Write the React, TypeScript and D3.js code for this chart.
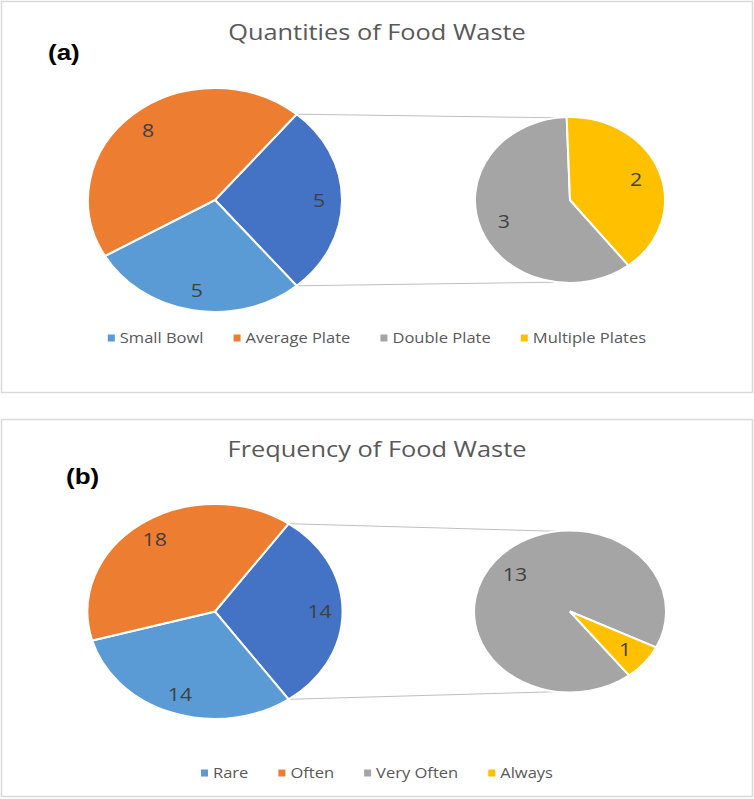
import React from "react";
import * as d3 from "d3";

// quantities panel
const qtyTitle = "Quantities of Food Waste";
const qtyCategories = ["Small Bowl", "Average Plate", "Double Plate", "Multiple Plates"];
const qtyValues = [5, 8, 3, 2];

// frequency panel
const freqTitle = "Frequency of Food Waste";
const freqCategories = ["Rare", "Often", "Very Often", "Always"];
const freqValues = [14, 18, 13, 1];

// how many trailing points go into the secondary pie
const splitCount = 2;

const catColors = ["#5B9BD5", "#ED7D31", "#A5A5A5", "#FFC000"];
const otherColor = "#4472C4";
const FONT = "'Open Sans', 'DejaVu Sans', sans-serif";
// the whole figure is a bit wider than tall, text included
const SX = 1.18;

const deg = (a: number) => (a * Math.PI) / 180;

let ctx: CanvasRenderingContext2D | null = null;
function textWidth(s: string, font: string) {
  if (!ctx) ctx = document.createElement("canvas").getContext("2d");
  if (!ctx) return s.length * 7;
  ctx.font = font;
  return ctx.measureText(s).width;
}

const WideText = (props: {
  x: number;
  y: number;
  anchor?: "start" | "middle" | "end";
  size: number;
  color: string;
  family?: string;
  weight?: string;
  central?: boolean;
  children: React.ReactNode;
}) => (
  <text
    transform={`translate(${props.x},${props.y}) scale(${SX},1)`}
    textAnchor={props.anchor || "start"}
    dominantBaseline={props.central ? "central" : undefined}
    fontFamily={props.family || FONT}
    fontWeight={props.weight}
    fontSize={props.size}
    fill={props.color}
  >
    {props.children}
  </text>
);

interface PanelProps {
  tag: string;
  tagX: number;
  title: string;
  categories: string[];
  values: number[];
  top: number;
  height: number;
  tagY: number;
  titleY: number;
  cy: number;
  main: { rx: number; ry: number };
  second: { rx: number; ry: number };
  legendY: number;
}

const PieOfPie = (p: PanelProps) => {
  const W = 754;
  const mainCx = 215;
  const secCx = 570;
  const cy = p.cy;

  const primaryVals = p.values.slice(0, p.values.length - splitCount);
  const secondaryVals = p.values.slice(p.values.length - splitCount);
  const otherTotal = d3.sum(secondaryVals);
  const total = d3.sum(p.values);

  // main pie: "other" wedge centred on the right, then the primary points clockwise
  const otherSpan = (otherTotal / total) * 2 * Math.PI;
  const start = Math.PI / 2 - otherSpan / 2;
  const mainPie = d3
    .pie<{ v: number; c: string }>()
    .sort(null)
    .value((d) => d.v)
    .startAngle(start)
    .endAngle(start + 2 * Math.PI);
  const mainData = [
    { v: otherTotal, c: otherColor },
    ...primaryVals.map((v, i) => ({ v, c: catColors[i] })),
  ];
  const mainArcs = mainPie(mainData);

  // secondary pie: last point finishes at ~142deg
  const secEnd = deg(142);
  const secPie = d3
    .pie<{ v: number; c: string }>()
    .sort(null)
    .value((d) => d.v)
    .startAngle(secEnd)
    .endAngle(secEnd + 2 * Math.PI);
  const secArcs = secPie(
    secondaryVals.map((v, i) => ({ v, c: catColors[primaryVals.length + i] }))
  );

  const unitArc = d3.arc<d3.PieArcDatum<{ v: number; c: string }>>().innerRadius(0).outerRadius(1);

  const pt = (cx: number, rx: number, ry: number, a: number, r = 1): [number, number] => [
    cx + rx * r * Math.sin(a),
    cy - ry * r * Math.cos(a),
  ];

  const topA = pt(mainCx, p.main.rx, p.main.ry, mainArcs[0].startAngle);
  const botA = pt(mainCx, p.main.rx, p.main.ry, mainArcs[0].endAngle);
  const topB = pt(secCx, p.second.rx, p.second.ry, deg(-8));
  const botB = pt(secCx, p.second.rx, p.second.ry, deg(188));

  // legend layout
  const legSize = 14;
  const legFont = `${legSize}px ${FONT}`;
  const sq = 7;
  const sqGap = 5;
  const itemGap = 30;
  const widths = p.categories.map((c) => sq + sqGap + textWidth(c, legFont) * SX);
  const legTotal = d3.sum(widths) + itemGap * (widths.length - 1);
  let lx = (W - legTotal) / 2;
  const legItems = p.categories.map((c, i) => {
    const x = lx;
    lx += widths[i] + itemGap;
    return { c, x, color: catColors[i] };
  });

  const labelColor = "#404040";

  return (
    <g>
      <rect x={1.5} y={p.top + 0.5} width={W - 3} height={p.height} fill="#fff" stroke="#d9d9d9" strokeWidth={1.5} />
      <WideText x={377} y={p.titleY} anchor="middle" size={21.5} color="#595959">
        {p.title}
      </WideText>
      <WideText x={p.tagX} y={p.tagY} size={22} weight="bold" color="#000" family="'Liberation Sans', Arial, sans-serif">
        {p.tag}
      </WideText>

      <line x1={topA[0]} y1={topA[1]} x2={topB[0]} y2={topB[1]} stroke="#bfbfbf" strokeWidth={1} />
      <line x1={botA[0]} y1={botA[1]} x2={botB[0]} y2={botB[1]} stroke="#bfbfbf" strokeWidth={1} />

      <g transform={`translate(${mainCx},${cy}) scale(${p.main.rx},${p.main.ry})`}>
        {mainArcs.map((a, i) => (
          <path key={i} d={unitArc(a) || ""} fill={a.data.c} stroke="#fff" strokeWidth={2} vectorEffect="non-scaling-stroke" />
        ))}
      </g>
      <g transform={`translate(${secCx},${cy}) scale(${p.second.rx},${p.second.ry})`}>
        {secArcs.map((a, i) => (
          <path key={i} d={unitArc(a) || ""} fill={a.data.c} stroke="#fff" strokeWidth={2} vectorEffect="non-scaling-stroke" />
        ))}
      </g>

      {mainArcs.map((a, i) => {
        const [x, y] = pt(mainCx, p.main.rx, p.main.ry, (a.startAngle + a.endAngle) / 2, 0.82);
        return (
          <WideText key={i} x={x} y={y} anchor="middle" central size={18} color={labelColor}>
            {a.data.v}
          </WideText>
        );
      })}
      {secArcs.map((a, i) => {
        const [x, y] = pt(secCx, p.second.rx, p.second.ry, (a.startAngle + a.endAngle) / 2, 0.74);
        return (
          <WideText key={i} x={x} y={y} anchor="middle" central size={18} color={labelColor}>
            {a.data.v}
          </WideText>
        );
      })}

      {legItems.map((it) => (
        <g key={it.c}>
          <rect x={it.x} y={p.legendY - sq / 2} width={sq} height={sq} fill={it.color} />
          <WideText x={it.x + sq + sqGap} y={p.legendY} central size={legSize} color="#595959">
            {it.c}
          </WideText>
        </g>
      ))}
    </g>
  );
};

export default function App() {
  return (
    <svg width={754} height={799} style={{ position: "absolute", left: 0, top: 0, background: "#fff" }}>
      <rect width={754} height={799} fill="#fff" />
      <PieOfPie
        tag="(a)"
        tagX={48}
        title={qtyTitle}
        categories={qtyCategories}
        values={qtyValues}
        top={1}
        height={391}
        tagY={60}
        titleY={40}
        cy={200}
        main={{ rx: 127, ry: 112 }}
        second={{ rx: 95, ry: 83 }}
        legendY={338}
      />
      <PieOfPie
        tag="(b)"
        tagX={66}
        title={freqTitle}
        categories={freqCategories}
        values={freqValues}
        top={419}
        height={377}
        tagY={484}
        titleY={457}
        cy={611.5}
        main={{ rx: 127.5, ry: 107.5 }}
        second={{ rx: 96, ry: 81 }}
        legendY={773}
      />
    </svg>
  );
}
